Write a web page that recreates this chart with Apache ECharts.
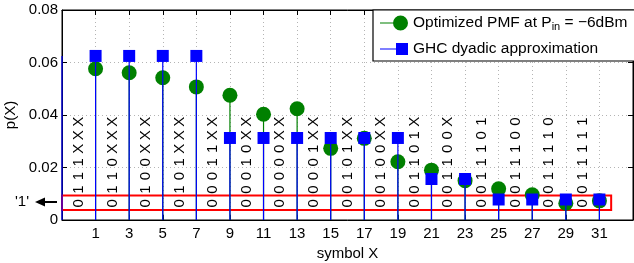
<!DOCTYPE html>
<html>
<head>
<meta charset="utf-8">
<script src="https://cdn.jsdelivr.net/npm/echarts@6/dist/echarts.min.js"></script>
<style>
  html, body { margin: 0; padding: 0; background: #fff; }
  #chart { width: 634px; height: 263px; }
</style>
</head>
<body>
<div id="chart"></div>
<script>
// symbols shown (odd ones)
const symbols = [1, 3, 5, 7, 9, 11, 13, 15, 17, 19, 21, 23, 25, 27, 29, 31];
const optimizedPmf = [0.0576, 0.0561, 0.0542, 0.0507, 0.0475, 0.0403, 0.0424, 0.0273, 0.0311, 0.0222,
  0.0190, 0.0150, 0.0119, 0.0096, 0.0064, 0.0073];
const dyadicPmf = [0.0625, 0.0625, 0.0625, 0.0625, 0.03125, 0.03125, 0.03125, 0.03125, 0.03125, 0.03125,
  0.015625, 0.015625, 0.0078125, 0.0078125, 0.0078125, 0.0078125];
// stem of symbol -1, sits on the left frame
const edgeSymbols = [-1];
const edgeDyadic = [0.0625];
// binary labels between the symbols
const labelPositions = [0, 2, 4, 6, 8, 10, 12, 14, 16, 18, 20, 22, 24, 26, 28, 30];
const bitLabels = ['0111XXX', '0110XXX', '0100XXX', '0101XXX', '00011XX', '00010XX', '00000XX', '00001XX',
  '00101XX', '00100XX', '001101X', '001100X', '0011101', '0011100', '0011110', '0011111'];
const yTicks = [0, 0.02, 0.04, 0.06, 0.08];

const optName = 'Optimized PMF at Pin = −6dBm';
const ghcName = 'GHC dyadic approximation';
const green = '#008000';
const blue = '#0000ff';
const font = 'Liberation Sans, Arial, sans-serif';
const labelBase = 0.0038;

const chart = echarts.init(document.getElementById('chart'));

// stem + marker
const stem = (color, marker) => (params, api) => {
  const x = api.value(0);
  const p0 = api.coord([x, 0]);
  const p1 = api.coord([x, api.value(1)]);
  const kids = [{
    type: 'line',
    shape: { x1: p0[0], y1: p0[1], x2: p1[0], y2: p1[1] },
    style: { stroke: color, lineWidth: 1.2 }
  }];
  if (marker === 'circle') {
    kids.push({ type: 'circle', shape: { cx: p1[0], cy: p1[1], r: 7.5 }, style: { fill: color } });
  } else if (marker === 'square') {
    kids.push({ type: 'rect', shape: { x: p1[0] - 6, y: p1[1] - 6, width: 12, height: 12 }, style: { fill: color } });
  }
  return { type: 'group', children: kids };
};

const bitText = (params, api) => {
  const p = api.coord([api.value(0), labelBase]);
  const s = bitLabels[params.dataIndex].split('').map(c => '{c|' + c + '}').join('');
  return {
    type: 'text',
    x: p[0],
    y: p[1],
    rotation: Math.PI / 2,
    style: {
      text: s,
      align: 'left',
      verticalAlign: 'middle',
      fill: '#000',
      font: '15px ' + font,
      rich: { c: { width: 13.6, align: 'center', fontSize: 15, fontFamily: font } }
    }
  };
};

const axisCommon = {
  axisLine: { show: true, onZero: false, lineStyle: { color: '#000', width: 1 } },
  axisTick: { show: true, inside: true, length: 5, lineStyle: { color: '#000' } }
};
const gridLine = { show: true, lineStyle: { type: [1, 3], color: '#b4b4b4', width: 1 } };

const option = {
  animation: false,
  textStyle: { fontFamily: font },
  grid: {
    left: 62, right: 1, top: 10, bottom: 43,
    outerBoundsMode: 'none', containLabel: false,
    show: true, borderColor: '#000', borderWidth: 1
  },
  legend: {
    left: 373,
    top: 10,
    orient: 'vertical',
    backgroundColor: '#fff',
    borderColor: '#000',
    borderWidth: 1.2,
    borderRadius: 0,
    padding: [4, 10, 3, 7],
    itemGap: 8,
    itemWidth: 28,
    itemHeight: 15,
    data: [
      { name: optName, icon: 'path://M0,7L21,7L21,8L0,8ZM13,7.5A7.5,7.5,0,1,1,28,7.5A7.5,7.5,0,1,1,13,7.5Z' },
      { name: ghcName, icon: 'path://M0,0L0.01,0L0,0ZM0,7L16,7L16,8L0,8ZM16,1.5L28,1.5L28,13.5L16,13.5ZM0,15L0.01,15L0,15Z' }
    ],
    formatter: name => name === optName ? 'Optimized PMF at P{s|in} = −6dBm' : name,
    textStyle: {
      fontSize: 15.5, color: '#000', lineHeight: 18, fontFamily: font,
      rich: { s: { fontSize: 11, lineHeight: 1, verticalAlign: 'bottom', fontFamily: font } }
    }
  },
  xAxis: [{
    type: 'value', min: -1, max: 33, interval: 2, position: 'bottom',
    ...axisCommon,
    axisLabel: { color: '#000', fontSize: 15, margin: 6, formatter: v => (v < 1 || v > 31) ? '' : String(v) },
    splitLine: gridLine,
    name: 'symbol X', nameLocation: 'middle', nameGap: 22,
    nameTextStyle: { color: '#000', fontSize: 15 }
  }, {
    type: 'value', min: -1, max: 33, interval: 2, position: 'top',
    ...axisCommon,
    axisLabel: { show: false }, splitLine: { show: false }
  }],
  yAxis: [{
    type: 'value', min: yTicks[0], max: yTicks[yTicks.length - 1], interval: 0.02, position: 'left',
    ...axisCommon,
    axisLabel: { color: '#000', fontSize: 15, margin: 4, formatter: v => v === 0 ? '0' : v.toFixed(2) },
    splitLine: gridLine,
    name: 'p(X)', nameLocation: 'middle', nameGap: 34,
    nameTextStyle: { color: '#000', fontSize: 15 }
  }, {
    type: 'value', min: yTicks[0], max: yTicks[yTicks.length - 1], interval: 0.02, position: 'right',
    ...axisCommon,
    axisLabel: { show: false }, splitLine: { show: false }
  }],
  graphic: [
    { type: 'text', left: 15, top: 194, style: { text: "'1'", font: '15px ' + font, fill: '#000' } },
    { type: 'line', shape: { x1: 42, y1: 202, x2: 57, y2: 202 }, style: { stroke: '#000', lineWidth: 2 } },
    { type: 'polygon', shape: { points: [[35, 202], [45, 197.5], [45, 206.5]] }, style: { fill: '#000' } }
  ],
  series: [
    {
      name: 'bits', type: 'custom', z: 1,
      data: labelPositions.map(x => [x, labelBase]),
      renderItem: bitText,
      markArea: {
        silent: true,
        itemStyle: { color: 'rgba(0,0,0,0)', borderColor: '#ff0000', borderWidth: 2 },
        data: [[{ coord: [-1, 0.0038] }, { coord: [31.7, 0.0093] }]]
      }
    },
    {
      name: optName, type: 'custom', z: 2, color: green, itemStyle: { color: green },
      data: symbols.map((x, i) => [x, optimizedPmf[i]]),
      renderItem: stem(green, 'circle')
    },
    {
      name: ghcName, type: 'custom', z: 3, color: blue, itemStyle: { color: blue },
      data: symbols.map((x, i) => [x, dyadicPmf[i]]),
      renderItem: stem(blue, 'square')
    },
    {
      name: 'edge', type: 'custom', z: 3,
      data: edgeSymbols.map((x, i) => [x, edgeDyadic[i]]),
      renderItem: stem(blue, 'none')
    }
  ]
};

chart.setOption(option);
</script>
</body>
</html>
